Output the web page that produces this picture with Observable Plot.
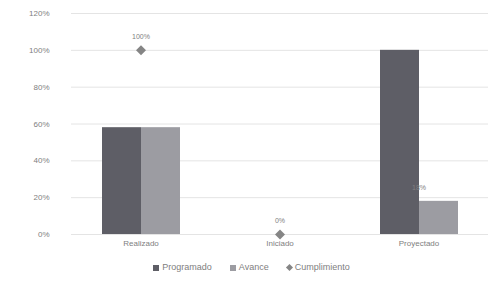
<!DOCTYPE html>
<html>
<head>
<meta charset="utf-8">
<script src="https://cdn.jsdelivr.net/npm/d3@7"></script>
<script src="https://cdn.jsdelivr.net/npm/@observablehq/plot@0.6"></script>
<style>
  body { margin: 0; background: #fff; font-family: "Liberation Sans", Arial, sans-serif; }
  #wrap { width: 503px; height: 287px; position: relative; box-sizing: border-box; }
  #legend { position: absolute; top: 262px; left: 0; width: 503px; text-align: center; font-size: 9px; color: #808080; }
  #legend span.item { margin: 0 9px; }
  #legend i { display: inline-block; width: 6px; height: 6px; margin-right: 3px; vertical-align: middle; }
  #legend i.d { transform: rotate(45deg); width: 5px; height: 5px; }
</style>
</head>
<body>
<div id="wrap"><div id="chart"></div><div id="legend"></div></div>
<script>
const categories = ["Realizado", "Iniciado", "Proyectado"];
const series = ["Programado", "Avance"];
const programado = [0.58, 0, 1.00];
const avance = [0.58, 0, 0.18];
const cumplimiento = [1.00, 0, 0.18];
const cumplimientoLabels = ["100%", "0%", "18%"];
const yTicks = [0, 0.2, 0.4, 0.6, 0.8, 1.0, 1.2];
const colors = {"Programado": "#5e5e66", "Avance": "#9c9ca2", "Cumplimiento": "#858585"};

const bars = [];
categories.forEach((c, i) => {
  bars.push({cat: c, serie: "Programado", value: programado[i]});
  bars.push({cat: c, serie: "Avance", value: avance[i]});
});
const points = categories.map((c, i) => ({cat: c, value: cumplimiento[i], label: cumplimientoLabels[i]}));

const chart = Plot.plot({
  width: 503,
  height: 256,
  marginLeft: 70,
  marginRight: 15,
  marginTop: 13,
  marginBottom: 22,
  style: {fontSize: "8px", color: "#808080", fontFamily: "Liberation Sans, Arial, sans-serif"},
  fx: {domain: categories, padding: 0, label: null, axis: "bottom", tickSize: 0, tickPadding: 6},
  x: {domain: series, paddingInner: 0, paddingOuter: 0.75, axis: null},
  y: {domain: [0, 1.2], ticks: yTicks, tickFormat: d3.format(".0%"), label: null, tickSize: 0, tickPadding: 22},
  color: {domain: Object.keys(colors), range: Object.values(colors)},
  marks: [
    Plot.gridY(yTicks, {stroke: "#e4e4e4", strokeOpacity: 1}),
    Plot.barY(bars, {fx: "cat", x: "serie", y: "value", fill: "serie"}),
    Plot.dot(points.filter(d => d.value >= 0.5 || d.value === 0), {fx: "cat", y: "value", symbol: "diamond2", r: 4.5, fill: colors.Cumplimiento, stroke: "none"}),
    Plot.text(points, {fx: "cat", y: "value", text: "label", dy: -14, fill: "#808080", fontSize: 7})
  ]
});
document.getElementById("chart").appendChild(chart);

const legend = document.getElementById("legend");
[["Programado", ""], ["Avance", ""], ["Cumplimiento", "d"]].forEach(([name, cls]) => {
  const s = document.createElement("span");
  s.className = "item";
  const i = document.createElement("i");
  if (cls) i.className = cls;
  i.style.background = colors[name];
  s.appendChild(i);
  s.appendChild(document.createTextNode(name));
  legend.appendChild(s);
});
</script>
</body>
</html>
